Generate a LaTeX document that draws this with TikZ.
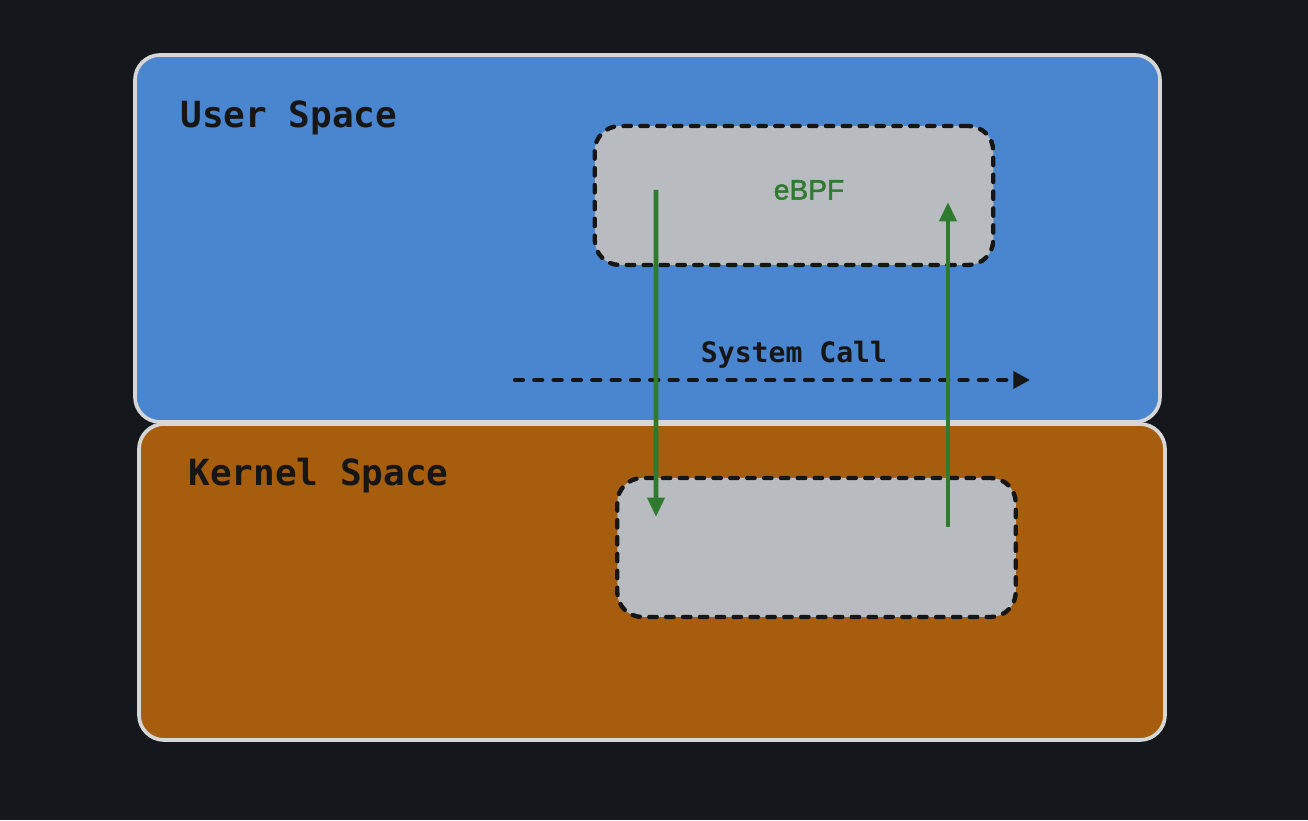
\documentclass[tikz,border=0pt]{standalone}
\usepackage{fontspec}
\usepackage{tikz}
\usetikzlibrary{arrows.meta, calc}
\setmonofont{DejaVu Sans Mono}
\newfontfamily\labelfont[FakeBold=1.6]{Liberation Sans}
\definecolor{bgdark}{HTML}{14171B}
\definecolor{userblue}{HTML}{4A86CF}
\definecolor{kernelbrown}{HTML}{A65E0E}
\definecolor{boxgray}{HTML}{B8BBBF}
\definecolor{flowgreen}{HTML}{2E7A2E}
\definecolor{rim}{HTML}{D6D6D6}
\definecolor{ink}{HTML}{161616}
\begin{document}
\begin{tikzpicture}[
    space/.style = {draw = rim, line width = 2.1pt, rounded corners = 0.5cm, inner sep = 0pt},
    progbox/.style = {draw = ink, fill = boxgray, line width = 2.5pt, dash pattern = on 4.2pt off 5.4pt,
        line cap = round, rounded corners = 0.5cm, minimum width = 7.97cm, minimum height = 2.78cm, inner sep = 0pt},
    title/.style = {font = \ttfamily\bfseries\fontsize{20.5}{24}\selectfont, text = ink, inner sep = 0pt, anchor = base west},
    flow/.style = {draw = flowgreen, line width = 2.6pt, -{Triangle[length = 11pt, width = 9.5pt]}},
    callflow/.style = {draw = ink, line width = 2.5pt, dash pattern = on 4.5pt off 6.5pt, line cap = round,
        -{Triangle[length = 9.5pt, width = 9.5pt]}}]
    \fill[bgdark] (0, 0) rectangle (26.16, 16.4);
    \useasboundingbox (0, 0) rectangle (26.16, 16.4);
    \node (user) at (12.95, 11.63) [space, fill = userblue, minimum width = 20.5cm, minimum height = 7.34cm] {};
    \node (kernel) at (13.04, 4.76) [space, fill = kernelbrown, minimum width = 20.52cm, minimum height = 6.32cm] {};
    \node (usertitle) at (3.6, 13.84) [title] {User Space};
    \node (kerneltitle) at (3.76, 6.68) [title] {Kernel Space};
    \node (ebpf) at (15.88, 12.49) [progbox] {};
    \node (kbox) at (16.33, 5.45) [progbox] {};
    \node (ebpflabel) at (16.18, 12.6) [text = flowgreen, font = \labelfont\fontsize{16}{19}\selectfont] {eBPF};
    \node (calllabel) at (15.88, 9.14) [anchor = base, inner sep = 0pt, text = ink,
        font = \ttfamily\bfseries\fontsize{16}{19}\selectfont] {System Call};
    \coordinate (callstart) at ($(calllabel.base) + (-5.58, -0.34)$);
    \coordinate (callend) at ($(calllabel.base) + (4.72, -0.34)$);
    \draw[callflow] (callstart) -- (callend);
    \draw[flow] ($(ebpf.center) + (-2.76, 0.11)$) -- ($(kbox.center) + (-3.21, 0.61)$);
    \draw[flow] ($(kbox.center) + (2.63, 0.41)$) -- ($(ebpf.center) + (3.08, -0.13)$);
\end{tikzpicture}
\end{document}
